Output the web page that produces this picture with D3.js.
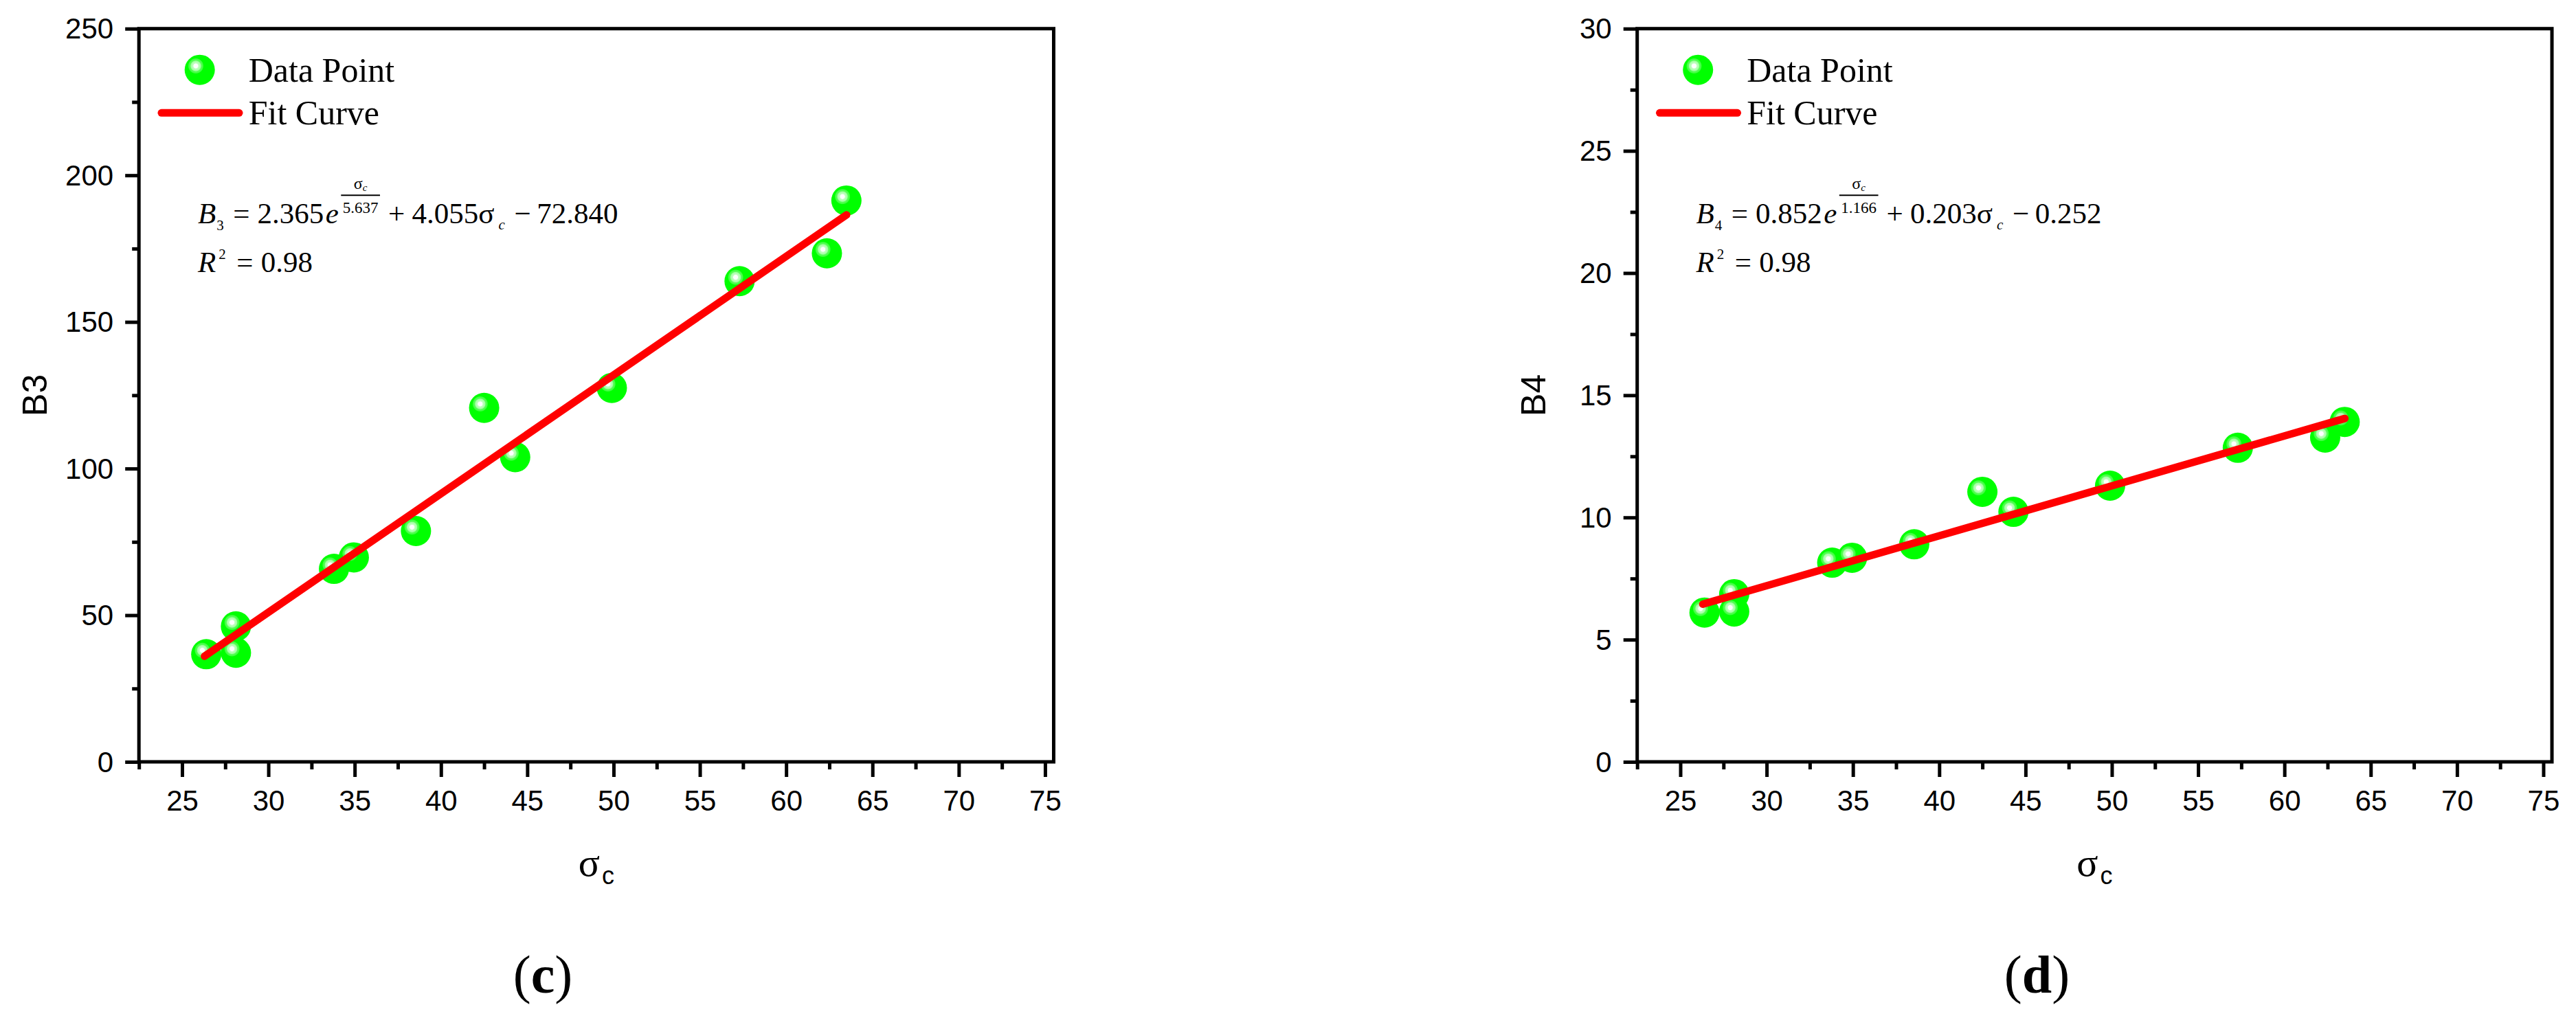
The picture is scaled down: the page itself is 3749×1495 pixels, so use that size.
<!DOCTYPE html>
<html>
<head>
<meta charset="utf-8">
<script src="https://cdn.jsdelivr.net/npm/d3@7/dist/d3.min.js"></script>
<style>
  html, body { margin: 0; padding: 0; background: #fff; }
  svg { display: block; }
</style>
</head>
<body>
<svg id="chart" width="3749" height="1495"></svg>
<script>
// ---------------- data ----------------
const sigmaC = [26.40, 28.12, 28.12, 33.80, 34.95, 38.55, 42.50, 44.30, 49.90, 57.30, 62.36, 63.49];
const B3 = [36.7, 46.2, 37.2, 65.8, 69.7, 78.7, 120.7, 103.9, 127.5, 163.9, 173.4, 191.4];
const B4 = [6.11, 6.86, 6.15, 8.15, 8.35, 8.90, 11.05, 10.23, 11.30, 12.85, 13.27, 13.91];

// fit curve (endpoints of the drawn line)
const fitX = [26.3, 63.5];
const fitB3 = [36.0, 186.5];
const fitB4 = [6.45, 14.05];

const xDomain = [22.5, 75.5];
const xTicks = [25, 30, 35, 40, 45, 50, 55, 60, 65, 70, 75];
const xMinor = [22.5, 27.5, 32.5, 37.5, 42.5, 47.5, 52.5, 57.5, 62.5, 67.5, 72.5];

const yDomainB3 = [0, 250];
const yTicksB3 = [0, 50, 100, 150, 200, 250];
const yMinorB3 = [25, 75, 125, 175, 225];

const yDomainB4 = [0, 30];
const yTicksB4 = [0, 5, 10, 15, 20, 25, 30];
const yMinorB4 = [2.5, 7.5, 12.5, 17.5, 22.5, 27.5];

const legendLabels = ["Data Point", "Fit Curve"];

// ---------------- layout ----------------
const svg = d3.select("#chart");
const SANS = "'Liberation Sans', Arial, sans-serif";
const SERIF = "'Liberation Serif', 'Times New Roman', serif";

const plotLeft = 202.2, plotRight = 1533.5, plotTop = 41.7, plotBottom = 1109;
const panelOffset = 2180.5;

// gradient for the green balls
const defs = svg.append("defs");
const grad = defs.append("radialGradient")
  .attr("id", "ball")
  .attr("cx", 0.37).attr("cy", 0.37).attr("r", 0.36)
  .attr("fx", 0.37).attr("fy", 0.37);
[
  [0, "#ffffff"], [0.2, "#ffffff"], [0.24, "#c8ffc8"], [0.45, "#a0ffa0"],
  [0.5, "#5cff5c"], [0.66, "#3cff3c"], [0.72, "#00ff00"], [1, "#00ff00"]
].forEach(([o, c]) => grad.append("stop").attr("offset", o).attr("stop-color", c));

function flow(g, x0, baseline, items) {
  let x = x0;
  items.forEach(it => {
    x += it.gap || 0;
    if (it.frac) {
      const den = g.append("text")
        .attr("y", baseline - 15)
        .style("font-family", SERIF).style("font-size", "23px")
        .text(it.den);
      const dw = den.node().getComputedTextLength();
      const barW = dw + 5;
      den.attr("x", x + (barW - dw) / 2);
      g.append("line")
        .attr("x1", x).attr("x2", x + barW)
        .attr("y1", baseline - 40.7).attr("y2", baseline - 40.7)
        .attr("stroke", "#000").attr("stroke-width", 2);
      const num = g.append("text")
        .attr("y", baseline - 50)
        .style("font-family", SERIF).style("font-size", "24px");
      num.append("tspan").text("σ");
      num.append("tspan").attr("dy", 3).style("font-style", "italic").style("font-size", "15px").text("c");
      const nw = num.node().getComputedTextLength();
      num.attr("x", x + (barW - nw) / 2);
      x += barW;
    } else {
      const t = g.append("text")
        .attr("x", x)
        .attr("y", baseline + (it.dy || 0))
        .style("font-family", SERIF)
        .style("font-size", (it.size || 43) + "px")
        .style("font-style", it.italic ? "italic" : "normal")
        .text(it.t);
      x += t.node().getComputedTextLength();
    }
  });
}

function drawPanel(g, cfg) {
  const x = d3.scaleLinear().domain(xDomain).range([plotLeft, plotRight]);
  const y = d3.scaleLinear().domain(cfg.yDomain).range([plotBottom, plotTop]);

  // axes (ticks)
  const axB = g.append("g").attr("transform", `translate(0,${plotBottom})`)
    .call(d3.axisBottom(x).tickValues(xTicks).tickSize(22).tickSizeOuter(0).tickPadding(19).tickFormat(d3.format("d")));
  const axBm = g.append("g").attr("transform", `translate(0,${plotBottom})`)
    .call(d3.axisBottom(x).tickValues(xMinor).tickSize(11).tickSizeOuter(0).tickFormat(""));
  const axL = g.append("g").attr("transform", `translate(${plotLeft},0)`)
    .call(d3.axisLeft(y).tickValues(cfg.yTicks).tickSize(20).tickSizeOuter(0).tickPadding(17).tickFormat(d3.format("d")));
  const axLm = g.append("g").attr("transform", `translate(${plotLeft},0)`)
    .call(d3.axisLeft(y).tickValues(cfg.yMinor).tickSize(10).tickSizeOuter(0).tickFormat(""));
  [axB, axBm, axL, axLm].forEach(a => {
    a.select(".domain").remove();
    a.selectAll(".tick line").attr("stroke", "#000").attr("stroke-width", 5);
    a.selectAll(".tick text").attr("fill", "#000")
      .style("font-family", SANS).style("font-size", "42px");
  });
  axL.selectAll(".tick text").attr("dy", "0.34em");

  // frame
  g.append("rect")
    .attr("x", plotLeft).attr("y", plotTop)
    .attr("width", plotRight - plotLeft).attr("height", plotBottom - plotTop)
    .attr("fill", "none").attr("stroke", "#000").attr("stroke-width", 5);

  // data points
  g.append("g").selectAll("circle")
    .data(sigmaC.map((s, i) => [s, cfg.yVals[i]]))
    .join("circle")
    .attr("cx", d => x(d[0])).attr("cy", d => y(d[1]))
    .attr("r", 22).attr("fill", "url(#ball)");

  // fit curve
  const line = d3.line().x(d => x(d[0])).y(d => y(d[1]));
  g.append("path")
    .datum(fitX.map((s, i) => [s, cfg.fitY[i]]))
    .attr("d", line)
    .attr("fill", "none").attr("stroke", "#ff0000")
    .attr("stroke-width", 11).attr("stroke-linecap", "round");

  // legend
  g.append("circle").attr("cx", 290.7).attr("cy", 101.7).attr("r", 22).attr("fill", "url(#ball)");
  g.append("line").attr("x1", 235).attr("x2", 348).attr("y1", 164.3).attr("y2", 164.3)
    .attr("stroke", "#ff0000").attr("stroke-width", 11).attr("stroke-linecap", "round");
  g.append("text").attr("x", 361.7).attr("y", 119)
    .style("font-family", SERIF).style("font-size", "50px").text(legendLabels[0]);
  g.append("text").attr("x", 361.7).attr("y", 181)
    .style("font-family", SERIF).style("font-size", "50px").text(legendLabels[1]);

  // equation
  const eg = g.append("g");
  flow(eg, 288, 325, [
    { t: "B", italic: true },
    { t: cfg.sub, size: 21, dy: 10, gap: 1 },
    { t: "=", gap: 13.5 },
    { t: cfg.a, gap: 11 },
    { t: "e", italic: true, gap: 2.5 },
    { frac: true, den: cfg.b, gap: 3.4 },
    { t: "+", gap: 12 },
    { t: cfg.c, gap: 10.3 },
    { t: "σ", gap: 0 },
    { t: "c", italic: true, size: 21, dy: 9, gap: 6 },
    { t: "−", gap: 13.7 },
    { t: cfg.d, gap: 8.3 }
  ]);
  flow(eg, 288, 395.7, [
    { t: "R", italic: true },
    { t: "2", size: 21, dy: -19, gap: 4 },
    { t: "=", gap: 15.5 },
    { t: "0.98", gap: 11.3 }
  ]);

  // axis titles
  g.append("text")
    .attr("transform", `translate(68,${(plotTop + plotBottom) / 2}) rotate(-90)`)
    .attr("text-anchor", "middle")
    .style("font-family", SANS).style("font-size", "50px")
    .text(cfg.yLabel);

  const xt = g.append("text")
    .attr("x", (plotLeft + plotRight) / 2).attr("y", 1275)
    .attr("text-anchor", "middle");
  xt.append("tspan").style("font-family", SERIF).style("font-size", "58px").text("σ");
  xt.append("tspan").attr("dx", 3).attr("dy", 12).style("font-family", SANS).style("font-size", "36px").text("c");

  // panel letter
  const pl = g.append("text")
    .attr("x", cfg.letterX).attr("y", 1445)
    .attr("text-anchor", "middle")
    .style("font-family", SERIF).style("font-size", "78px");
  pl.append("tspan").text("(");
  pl.append("tspan").style("font-weight", "bold").text(cfg.letter);
  pl.append("tspan").text(")");
}

drawPanel(svg.append("g"), {
  yDomain: yDomainB3, yTicks: yTicksB3, yMinor: yMinorB3, yVals: B3, fitY: fitB3,
  yLabel: "B3", sub: "3", a: "2.365", b: "5.637", c: "4.055", d: "72.840",
  letter: "c", letterX: 790
});
drawPanel(svg.append("g").attr("transform", `translate(${panelOffset},0)`), {
  yDomain: yDomainB4, yTicks: yTicksB4, yMinor: yMinorB4, yVals: B4, fitY: fitB4,
  yLabel: "B4", sub: "4", a: "0.852", b: "1.166", c: "0.203", d: "0.252",
  letter: "d", letterX: 784
});
</script>
</body>
</html>
